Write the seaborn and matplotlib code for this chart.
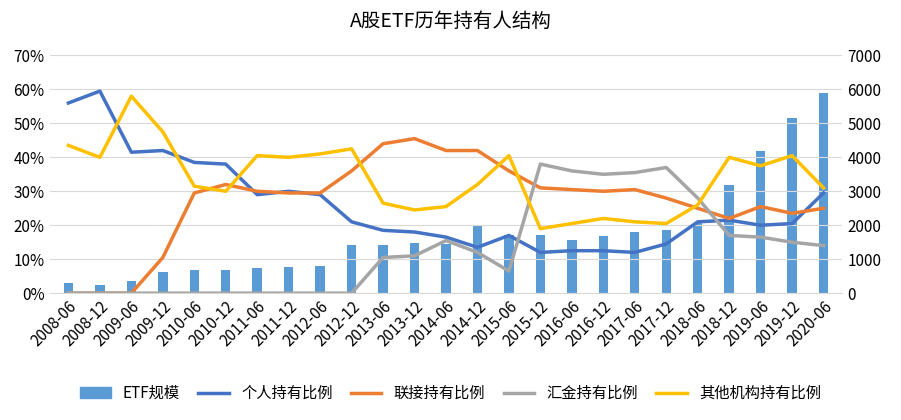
import matplotlib
matplotlib.use("Agg")
import matplotlib.pyplot as plt
import seaborn as sns
import pandas as pd
import numpy as np

plt.rcParams["font.family"] = ["Noto Sans CJK SC", "DejaVu Sans"]

periods = ["2008-06","2008-12","2009-06","2009-12","2010-06","2010-12","2011-06","2011-12",
           "2012-06","2012-12","2013-06","2013-12","2014-06","2014-12","2015-06","2015-12",
           "2016-06","2016-12","2017-06","2017-12","2018-06","2018-12","2019-06","2019-12","2020-06"]
etf_size = [300,250,350,620,680,680,750,760,800,1420,1420,1470,1450,2020,1720,1720,1560,1680,
            1790,1870,2080,3180,4180,5150,5900]
individual = [56,59.5,41.5,42,38.5,38,29,30,29,21,18.5,18,16.5,13.5,17,12,12.5,12.5,12,14.5,21,21.5,20,20.5,29.5]
linked = [0,0,0,10.5,29.5,32,30,29.5,29.5,36,44,45.5,42,42,36,31,30.5,30,30.5,28,25,22,25.5,23.5,25]
huijin = [0,0,0,0,0,0,0,0,0,0,10.5,11,15.5,12,6.5,38,36,35,35.5,37,28,17,16.5,15,14]
other = [43.5,40,58,47.5,31.5,30,40.5,40,41,42.5,26.5,24.5,25.5,32,40.5,19,20.5,22,21,20.5,26,40,37.5,40.5,31]

fig, ax = plt.subplots(figsize=(9.01, 4.20), dpi=100)
ax2 = ax.twinx()
x = np.arange(len(periods))
df = pd.DataFrame({"x": x, "size": etf_size})
sns.barplot(data=df, x="x", y="size", ax=ax2, color="#5B9BD5", width=0.3, saturation=1, native_scale=True)
series = [("个人持有比例", individual, "#4472C4"), ("联接持有比例", linked, "#ED7D31"),
          ("汇金持有比例", huijin, "#A5A5A5"), ("其他机构持有比例", other, "#FFC000")]
for name, vals, c in series:
    sns.lineplot(x=x, y=np.array(vals)/100, ax=ax, color=c, linewidth=2.5, label=name, legend=False)
ax.set_zorder(ax2.get_zorder()+1); ax.patch.set_visible(False)
ax.set_ylim(0, 0.7); ax.set_yticks(np.arange(0, 0.71, 0.1))
ax.set_yticklabels([f"{int(round(v*100))}%" for v in np.arange(0, 0.71, 0.1)])
ax2.set_ylim(0, 7000); ax2.set_yticks(range(0, 7001, 1000))
ax.set_xlim(-0.6, len(periods)-0.4)
ax.set_xticks(x); ax.set_xticklabels(periods, rotation=45, ha="right", rotation_mode="anchor")
ax.grid(axis="y", color="#D9D9D9", linewidth=0.8); ax.set_axisbelow(True)
for a in (ax, ax2):
    a.set_xlabel(""); a.set_ylabel("")
    for s in a.spines.values(): s.set_visible(False)
    a.tick_params(length=0, labelsize=11)
ax.spines["bottom"].set_visible(True); ax.spines["bottom"].set_color("#D9D9D9")
fig.suptitle("A股ETF历年持有人结构", fontsize=14, y=0.975)
from matplotlib.patches import Patch
from matplotlib.lines import Line2D
handles = [Patch(color="#5B9BD5")] + [Line2D([], [], color=c, lw=2.5) for _, _, c in series]
labels = ["ETF规模"] + [n for n, _, _ in series]
fig.legend(handles, labels, loc="lower center", ncol=5, frameon=False, fontsize=11,
           bbox_to_anchor=(0.5, 0.01), handlelength=2, columnspacing=1.2)
fig.subplots_adjust(left=0.055, right=0.935, top=0.868, bottom=0.302)
fig.savefig("out.png", dpi=100)
